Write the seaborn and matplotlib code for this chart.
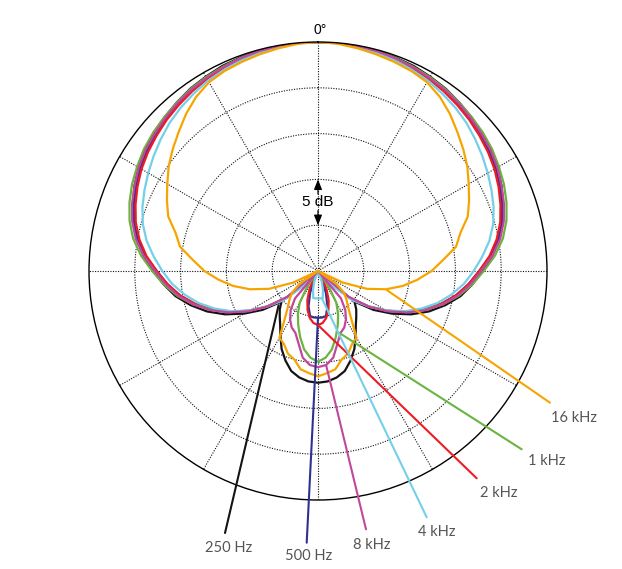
import numpy as np
import pandas as pd
import matplotlib
matplotlib.use("Agg")
import matplotlib.pyplot as plt
import seaborn as sns

# ---------------- data (dB, read at 0..180 deg in 5 deg steps, pattern is symmetric) -------------
angles_half = list(range(0, 181, 5))

level_250 = [0, 0, 0, -0.1, -0.2, -0.3, -0.5, -0.7, -1.0, -1.3, -1.6, -2.0, -2.4, -2.9, -3.5,
             -4.1, -4.9, -5.9, -7.0, -8.1, -9.2, -10.6, -12.1, -13.8, -15.7, -17.6, -19.8,
             -19.1, -18.5, -17.8, -16.8, -15.6, -14.6, -13.7, -13.2, -12.9, -12.8]
level_500 = [0, 0, -0.1, -0.2, -0.3, -0.5, -0.7, -0.9, -1.2, -1.5, -1.8, -2.2, -2.6, -3.1, -3.6,
             -4.2, -5.0, -6.1, -7.4, -8.5, -9.7, -11.1, -12.7, -14.4, -16.3, -18.2, -20.2,
             -23.0, -25, -25, -25, -24.3, -22.5, -21.0, -20.0, -19.9, -19.9]
level_1k = [0, 0, -0.05, -0.15, -0.25, -0.4, -0.55, -0.75, -1.0, -1.25, -1.5, -1.8, -2.2, -2.6,
            -3.1, -3.7, -4.5, -5.6, -6.9, -8.1, -9.4, -10.9, -12.6, -14.4, -16.4, -18.3, -20.5,
            -23.5, -25, -23.0, -21.0, -19.8, -18.7, -17.5, -16.3, -15.5, -15.1]
level_2k = [0, 0, -0.1, -0.25, -0.4, -0.6, -0.8, -1.05, -1.35, -1.65, -2.0, -2.35, -2.75, -3.25,
            -3.8, -4.4, -5.2, -6.2, -7.4, -8.5, -9.7, -11.1, -12.7, -14.4, -16.3, -18.2, -20.3,
            -23.0, -25, -25, -24.0, -22.8, -21.6, -20.6, -19.8, -19.3, -19.1]
level_4k = [0, -0.05, -0.15, -0.3, -0.5, -0.75, -1.0, -1.35, -1.7, -2.1, -2.6, -3.1, -3.6, -4.1,
            -4.6, -5.2, -6.0, -7.0, -8.0, -9.0, -10.2, -11.5, -13.0, -14.6, -16.4, -18.2, -20.0,
            -22.5, -25, -25, -25, -25, -23.8, -22.9, -22.0, -22.0, -22.0]
level_8k = [0, 0, -0.05, -0.15, -0.3, -0.45, -0.65, -0.85, -1.1, -1.4, -1.7, -2.0, -2.4, -2.9,
            -3.4, -4.0, -4.8, -5.9, -7.2, -8.3, -9.5, -10.9, -12.5, -14.3, -16.2, -18.2, -20.6,
            -25, -21.1, -19.8, -18.9, -18.2, -17.8, -16.8, -15.4, -14.7, -14.5]
level_16k = [0, -0.1, -0.3, -0.5, -0.7, -0.9, -1.2, -1.8, -2.6, -3.5, -4.3, -5.1, -6.0, -6.8,
             -7.6, -8.9, -9.7, -11.3, -12.6, -14.1, -15.6, -17.3, -19.3, -22.0, -25, -22.5,
             -21.3, -20.6, -19.9, -18.7, -16.6, -16.2, -15.4, -15.0, -14.1, -13.8, -13.5]

bands = ["250 Hz", "500 Hz", "1 kHz", "2 kHz", "4 kHz", "8 kHz", "16 kHz"]
levels = [level_250, level_500, level_1k, level_2k, level_4k, level_8k, level_16k]
colors = ["#141414", "#2e3192", "#6cb33f", "#ed1c24", "#74cfe8", "#c2479c", "#f6a500"]

# leader-line anchors on the curves (theta deg, dB) and label positions (figure px from top-left)
anchor_theta = [-131, 180, 162, 180, 172, 175, 105.5]
anchor_level = [-19.3, -19.9, -18.0, -19.1, -22.0, -14.6, -17.2]
leader_end = [(225, 533), (306.7, 542.7), (521.7, 449.3), (476.7, 478.3),
              (426.7, 517.3), (366, 529.3), (550, 402.7)]
label_pos = [(205, 548), (285, 556), (528, 461), (480, 493), (418, 532), (353, 545), (551, 418)]

# ---------------- build long table ----------------
rows = []
for band, lv in zip(bands, levels):
    full_ang = angles_half + [360 - a for a in angles_half[-2::-1]]
    full_lv = lv + lv[-2::-1]
    for i, (a, v) in enumerate(zip(full_ang, full_lv)):
        rows.append({"band": band, "theta": np.deg2rad(a), "level": max(v, -25), "order": i})
df = pd.DataFrame(rows)

sns.set_theme(style="white")
plt.rcParams["font.family"] = ["Liberation Sans", "DejaVu Sans"]

W, H = 622, 569
fig = plt.figure(figsize=(W / 100, H / 100), dpi=100)
fig.patch.set_facecolor("white")
cx, cy, R = 318, 271, 229
ax = fig.add_axes([(cx - R) / W, (H - cy - R) / H, 2 * R / W, 2 * R / H], projection="polar")
ax.set_facecolor("white")
ax.set_theta_zero_location("N")
ax.set_theta_direction(-1)

draw_order = ["250 Hz", "500 Hz", "2 kHz", "1 kHz", "4 kHz", "8 kHz", "16 kHz"]
pal = dict(zip(bands, colors))
sns.lineplot(data=df, x="theta", y="level", hue="band", hue_order=draw_order, palette=pal,
             sort=False, estimator=None, units="band", legend=False, linewidth=1.6, ax=ax)

ax.set_ylim(-25, 0)
ax.set_thetagrids(np.arange(0, 360, 30), labels=[])
ax.set_rgrids([-20, -15, -10, -5], labels=[])
ax.grid(True, color="#111111", linestyle=(0, (1, 1.3)), linewidth=0.8)
ax.spines["polar"].set_color("black")
ax.spines["polar"].set_linewidth(1.0)
ax.set_xlabel("")
ax.set_ylabel("")

# leader lines
for band, th, lv, end in zip(bands, anchor_theta, anchor_level, leader_end):
    ax.annotate("", xy=(np.deg2rad(th), lv), xycoords="data",
                xytext=(end[0], H - end[1]), textcoords="figure pixels",
                arrowprops=dict(arrowstyle="-", color=pal[band], lw=1.5,
                                shrinkA=0, shrinkB=0), annotation_clip=False)

for band, pos in zip(bands, label_pos):
    fig.text(pos[0] / W, 1 - pos[1] / H, band, ha="left", va="center", fontsize=10.5,
             color="#555555", family=["Lato", "DejaVu Sans"], fontweight="normal")

# 0 deg label and 5 dB scale marker
fig.text(320 / W, 1 - 30 / H, "0°", ha="center", va="center", fontsize=10, color="black")
ax.text(0, -17.5, "5 dB", ha="center", va="center", fontsize=11, color="black")
ax.annotate("", xy=(0, -15), xytext=(0, -16.6),
            arrowprops=dict(arrowstyle="-|>,head_length=0.5,head_width=0.2", color="black",
                            lw=0.9, shrinkA=0, shrinkB=0))
ax.annotate("", xy=(0, -20), xytext=(0, -18.4),
            arrowprops=dict(arrowstyle="-|>,head_length=0.5,head_width=0.2", color="black",
                            lw=0.9, shrinkA=0, shrinkB=0))

fig.savefig("out.png", dpi=100, facecolor="white")
